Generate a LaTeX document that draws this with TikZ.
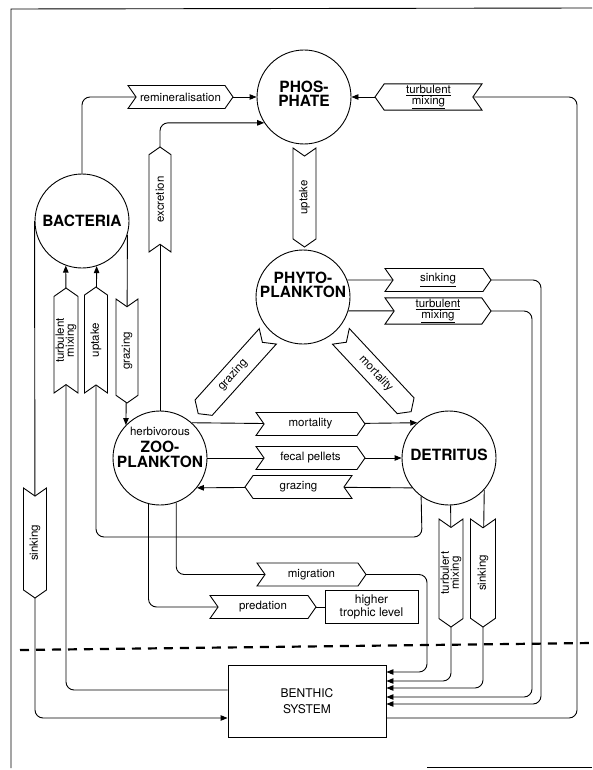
\documentclass[tikz,border=0pt]{standalone}
\usepackage{fontspec}
\setmainfont{TeX Gyre Heros}
\usetikzlibrary{arrows.meta,shapes.symbols,backgrounds}

\begin{document}
\begin{tikzpicture}[x=1pt,y=-1pt,>={Triangle[length=7pt,width=5.5pt]},line width=.9pt,
 every node/.style={font=\fontsize{11.5}{10}\selectfont},
 pool/.style={circle,draw,fill=white,minimum size=94pt,inner sep=0pt},
 poolname/.style={font=\fontsize{15.5}{14.5}\selectfont\bfseries,align=center},
 sign/.style={signal,draw,fill=white,signal pointer angle=110,minimum height=23pt,inner sep=1pt,align=center},
 fwd/.style={sign,signal to=east,signal from=west,minimum width=#1},
 bwd/.style={sign,signal to=west,signal from=east,minimum width=#1},
 flow/.style={rounded corners=8pt}]
\useasboundingbox(0,0)rectangle(592,770);
\draw(11,768)--(11,9)--(592,8);\draw(427,767)--(592,767);
% compartments
\node[pool,label={[poolname,yshift=3pt]center:{PHOS-\\PHATE}}](phos)at(304,97){};
\node[pool,label={[poolname]center:BACTERIA}](bac)at(82,221){};
\node[pool,label={[poolname,yshift=12pt]center:{PHYTO-\\PLANKTON}}](phy)at(303,297){};
\node[pool,label={[poolname,yshift=11pt]center:{{\fontsize{11.5}{12}\selectfont\mdseries herbivorous}\\[3pt]ZOO-\\PLANKTON}}](zoo)at(160,458){};
\node[pool,label={[poolname,yshift=3pt]center:DETRITUS}](det)at(449,458){};
\node[draw,fill=white,minimum width=158pt,minimum height=72pt,align=center,font=\fontsize{12}{16}\selectfont](benth)at(307,701){BENTHIC\\SYSTEM};
\node[draw,minimum width=93pt,minimum height=33pt,align=center,font=\fontsize{12}{13}\selectfont](htl)at(371.5,607){higher\\trophic level};
% fluxes
\node[fwd=105pt](remin)at(180.5,97){remineralisation};
\node[bwd=107pt](mixP)at(428.5,97){\underline{turbulent}\\\underline{mixing}};
\node[bwd=99pt,rotate=90](upP)at(304.5,197.5){uptake};
\node[fwd=105pt,rotate=90,minimum height=22pt](exc)at(160,199.5){excretion};
\node[fwd=106pt](sinkP)at(438,280){\underline{sinking}};
\node[fwd=106pt,minimum height=24pt](mixPh)at(438,311){\underline{turbulent}\\\underline{mixing}};
\node[fwd=105pt,rotate=90,minimum height=24pt](mixB)at(66,340.5){turbulent\\mixing};
\node[fwd=106pt,rotate=90](upB)at(96,340){uptake};
\node[bwd=104pt,rotate=90,minimum height=22pt](grazB)at(127,351){grazing};
\node[bwd=104pt,rotate=48](grazPh)at(233,375){grazing};
\node[fwd=103pt,rotate=-47](mortPh)at(376,374){mortality};
\node[fwd=109pt](mortZ)at(310.5,424){mortality};
\node[fwd=109pt](fecal)at(310.5,458){fecal pellets};
\node[bwd=107pt](grazD)at(298.5,487){grazing};
\node[bwd=110pt,rotate=90](sinkL)at(35,543){sinking};
\node[fwd=109pt](migr)at(311.5,574.5){migration};
\node[fwd=106pt](pred)at(263,607){predation};
\node[bwd=108pt,rotate=90,minimum height=24pt](mixD)at(451,573){turbulert\\mixing};
\node[bwd=108pt,rotate=90,minimum height=25pt](sinkD)at(483,573){sinking};
% connectors
\begin{scope}[on background layer={line width=.9pt}]
\draw[flow](bac.north)|-(remin.center);\draw[->](remin.center)--(phos);
\draw(zoo.north)--(exc.center);\draw[flow,->](exc.center)|-(phos.213);
\draw[->](mixP.center)--(phos);
\draw[flow](mixP.center)--(577,97)|-([yshift=-17pt]benth.east);
\draw(phy.21)--(sinkP.center);\draw[flow,->](sinkP.center)--(541,280)|-([yshift=-3pt]benth.east);
\draw(phy.-17)--(mixPh.center);\draw[flow,->](mixPh.center)--(532,311)|-([yshift=4pt]benth.east);
\draw(zoo.48)--(mortZ.center);\draw[->](mortZ.center)--(det.132);
\draw(zoo.east)--(fecal.center);\draw[->](fecal.center)--(det.west);
\draw(det.219)--(grazD.center);\draw[->](grazD.center)--(zoo.-39);
\draw[flow](zoo.-104)|-(pred.center);\draw(pred.center)--(htl);
\draw[flow](zoo.-70)|-(migr.center);\draw[flow,->](migr.center)--(427,574.5)|-([yshift=29pt]benth.east);
\draw(det.-88)--(mixD.center);\draw[flow,->](mixD.center)|-([yshift=20pt]benth.east);
\draw(det.-42)--(sinkD.center);\draw[flow,->](sinkD.center)|-([yshift=13pt]benth.east);
\draw[flow](det.-126)--(422,537)-|(upB.center);\draw[->](upB.center)--(bac.-72);
\draw[flow](mixB.center)|-([yshift=11pt]benth.west);\draw[->](mixB.center)--(bac.-110);
\draw(bac.-17)--(grazB.center);\draw[->](grazB.center)--(zoo.136);
\draw(bac.west)--(sinkL.center);\draw[flow,->](sinkL.center)|-([yshift=-17pt]benth.west);
\end{scope}
\draw[line width=2.2pt,dash pattern=on 9pt off 7pt](20,650)--(592,643);
\end{tikzpicture}
\end{document}
